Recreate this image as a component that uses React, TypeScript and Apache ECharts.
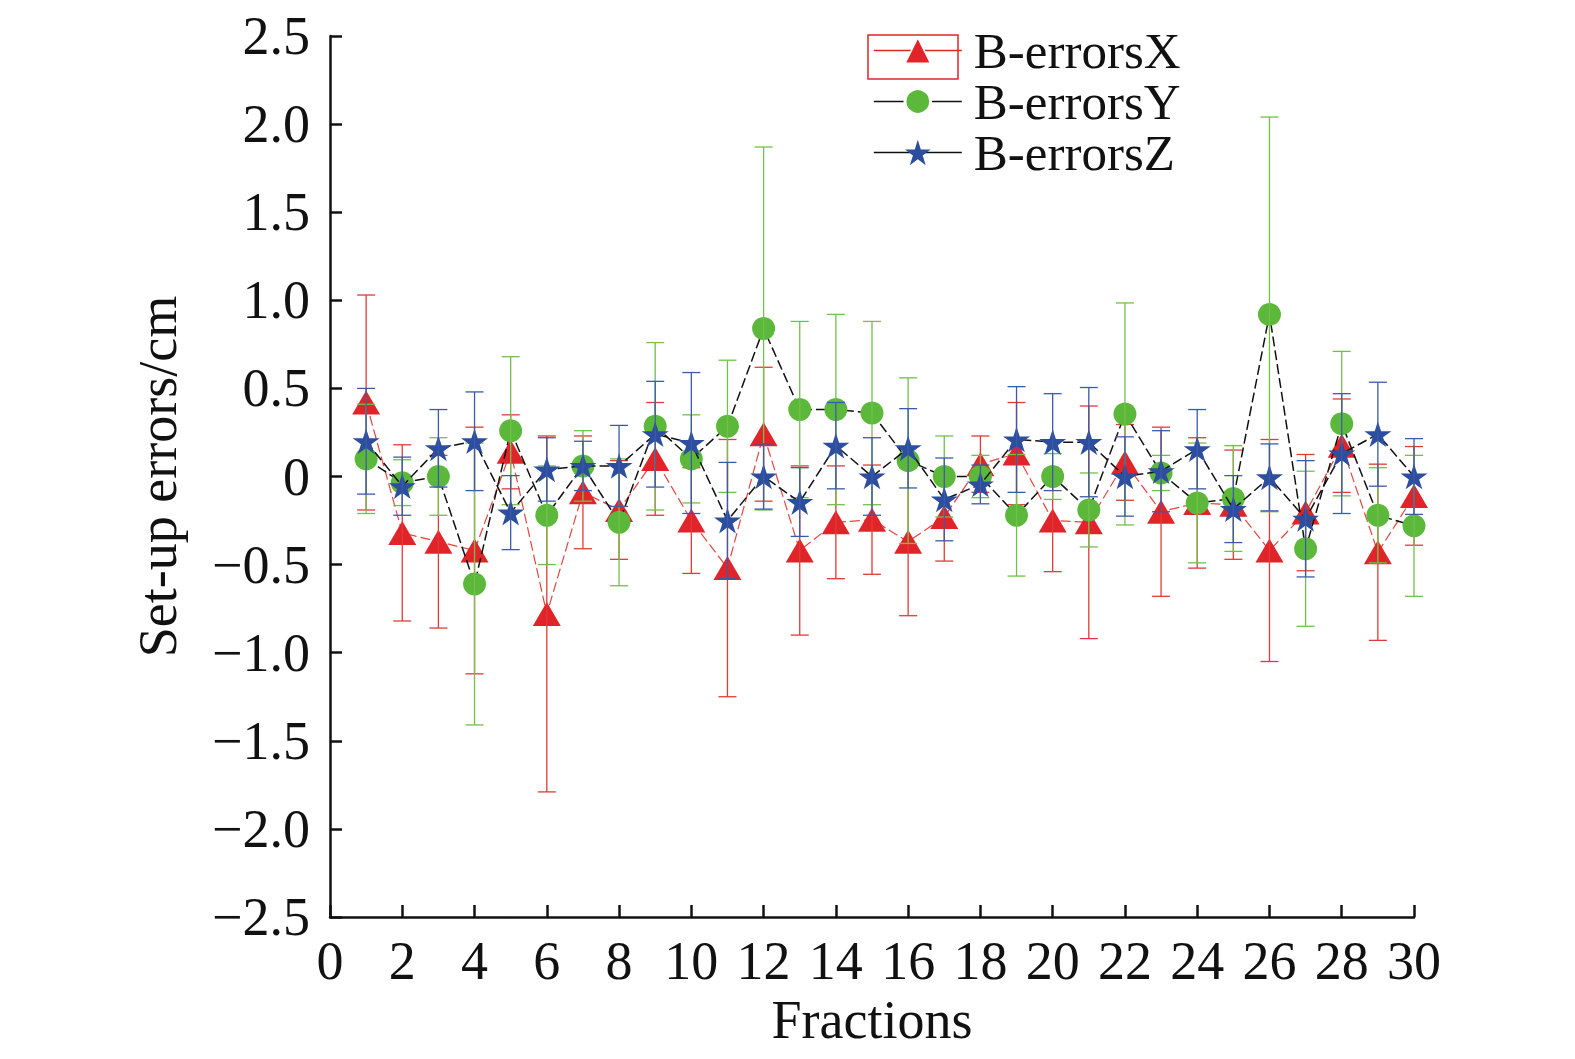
import React, { useEffect, useRef } from "react";
import * as echarts from "echarts";

const fractions = [1, 2, 3, 4, 5, 6, 7, 8, 9, 10, 11, 12, 13, 14, 15, 16, 17, 18, 19, 20, 21, 22, 23, 24, 25, 26, 27, 28, 29, 30];

const xMean = [0.42, -0.32, -0.37, -0.42, 0.14, -0.78, -0.09, -0.19, 0.1, -0.25, -0.52, 0.24, -0.42, -0.26, -0.245, -0.37, -0.23, 0.07, 0.13, -0.25, -0.26, 0.08, -0.2, -0.15, -0.16, -0.42, -0.205, 0.175, -0.43, -0.11];
const xErr = [0.61, 0.5, 0.49, 0.7, 0.21, 1.01, 0.32, 0.28, 0.32, 0.3, 0.73, 0.38, 0.48, 0.32, 0.31, 0.42, 0.25, 0.16, 0.29, 0.29, 0.66, 0.215, 0.48, 0.37, 0.31, 0.63, 0.33, 0.265, 0.5, 0.28];

const yMean = [0.1, -0.035, 0.0, -0.61, 0.26, -0.22, 0.06, -0.26, 0.285, 0.1, 0.285, 0.84, 0.38, 0.38, 0.36, 0.09, 0.0, 0.0, -0.22, 0.0, -0.19, 0.355, 0.02, -0.15, -0.125, 0.92, -0.41, 0.3, -0.22, -0.28];
const yErr = [0.31, 0.13, 0.22, 0.8, 0.42, 0.28, 0.2, 0.36, 0.475, 0.25, 0.375, 1.03, 0.5, 0.54, 0.52, 0.47, 0.23, 0.12, 0.345, 0.13, 0.21, 0.63, 0.1, 0.34, 0.3, 1.12, 0.44, 0.41, 0.27, 0.4];

const zMean = [0.2, -0.055, 0.16, 0.2, -0.205, 0.04, 0.06, 0.06, 0.24, 0.19, -0.25, 0.0, -0.145, 0.175, 0.0, 0.16, -0.13, -0.045, 0.21, 0.195, 0.195, 0.0, 0.03, 0.155, -0.185, -0.005, -0.24, 0.13, 0.24, 0.0];
const zErr = [0.3, 0.165, 0.22, 0.28, 0.21, 0.18, 0.14, 0.23, 0.3, 0.4, 0.33, 0.185, 0.195, 0.245, 0.22, 0.225, 0.235, 0.11, 0.3, 0.275, 0.31, 0.225, 0.23, 0.225, 0.19, 0.19, 0.33, 0.34, 0.295, 0.215];

const seriesNames = ["B-errorsX", "B-errorsY", "B-errorsZ"];

const FONT = "'Liberation Serif', 'Times New Roman', Times, serif";
const STAR =
  "path://M100,0 L122.45,69.1 L195.1,69.1 L136.3,111.8 L158.8,180.9 L100,138.2 L41.2,180.9 L63.7,111.8 L4.9,69.1 L77.55,69.1 Z";

const RED = "#e0242a";
const GREEN = "#5cb83a";
const BLUE = "#2d4e9e";

function fmtY(v: number) {
  if (Math.abs(v) < 1e-9) return "0";
  const s = Math.abs(v).toFixed(1);
  return v < 0 ? "\u2212" + s : s;
}

function errSeries(means: number[], errs: number[], color: string, z: number) {
  return {
    type: "custom",
    name: "err" + z,
    silent: true,
    z,
    encode: { x: 0, y: [1, 2] },
    data: fractions.map((f, i) => [f, means[i] - errs[i], means[i] + errs[i]]),
    renderItem: (params: any, api: any) => {
      const x = api.value(0);
      const lo = api.coord([x, api.value(1)]);
      const hi = api.coord([x, api.value(2)]);
      const hw = 9;
      const st = { stroke: color, lineWidth: 1.3 };
      return {
        type: "group",
        children: [
          { type: "line", shape: { x1: lo[0], y1: lo[1], x2: hi[0], y2: hi[1] }, style: st },
          { type: "line", shape: { x1: lo[0] - hw, y1: lo[1], x2: lo[0] + hw, y2: lo[1] }, style: st },
          { type: "line", shape: { x1: hi[0] - hw, y1: hi[1], x2: hi[0] + hw, y2: hi[1] }, style: st },
        ],
      };
    },
  };
}

export default function App() {
  const ref = useRef<HTMLDivElement>(null);

  useEffect(() => {
    document.body.style.margin = "0";
    if (!ref.current) return;
    const chart = echarts.init(ref.current, null, { renderer: "svg" });
    const option = {
      animation: false,
      backgroundColor: "#ffffff",
      grid: { left: 330, right: 161, top: 36, bottom: 142, containLabel: false },
      legend: {
        orient: "vertical",
        left: 868,
        top: 20,
        itemWidth: 88,
        itemHeight: 32,
        itemGap: 0,
        selectedMode: false,
        textStyle: { fontFamily: FONT, fontSize: 51, color: "#111", lineHeight: 50, padding: [0, 0, 0, 7] },
        data: [
          { name: seriesNames[0], itemStyle: { borderColor: "#fff", borderWidth: 1.5 }, lineStyle: { type: "solid", color: RED, width: 1.6 } },
          { name: seriesNames[1], itemStyle: { borderColor: "#fff", borderWidth: 3 }, lineStyle: { type: "solid", color: "#111", width: 1.6 } },
          { name: seriesNames[2], itemStyle: { borderWidth: 0 }, lineStyle: { type: "solid", color: "#111", width: 1.6 } },
        ],
      },
      xAxis: {
        type: "value",
        min: 0,
        max: 30,
        interval: 2,
        name: "Fractions",
        nameLocation: "middle",
        nameGap: 75,
        nameTextStyle: { fontFamily: FONT, fontSize: 54, color: "#111" },
        axisLine: { show: true, onZero: false, lineStyle: { color: "#111", width: 2.5 } },
        axisTick: { show: true, inside: true, length: 12, lineStyle: { color: "#111", width: 2.5 } },
        axisLabel: { fontFamily: FONT, fontSize: 54, color: "#111", margin: 17 },
        splitLine: { show: false },
      },
      yAxis: {
        type: "value",
        min: -2.5,
        max: 2.5,
        interval: 0.5,
        name: "Set-up errors/cm",
        nameLocation: "middle",
        nameGap: 145,
        nameTextStyle: { fontFamily: FONT, fontSize: 54, color: "#111" },
        axisLine: { show: true, onZero: false, lineStyle: { color: "#111", width: 2.5 } },
        axisTick: { show: true, inside: true, length: 12, lineStyle: { color: "#111", width: 2.5 } },
        axisLabel: { fontFamily: FONT, fontSize: 54, color: "#111", margin: 20, formatter: fmtY },
        splitLine: { show: false },
      },
      graphic: [
        {
          type: "rect",
          shape: { x: 868, y: 35, width: 90, height: 44 },
          style: { fill: "none", stroke: RED, lineWidth: 1.5 },
          z: 100,
        },
      ],
      series: [
        {
          type: "line",
          name: seriesNames[0],
          z: 2,
          data: fractions.map((f, i) => [f, xMean[i]]),
          symbol: "triangle",
          symbolSize: [28, 24],
          itemStyle: { color: RED },
          lineStyle: { color: "#e4453e", width: 1.2, type: [10, 4] },
        },
        errSeries(xMean, xErr, "#e23a36", 3),
        {
          type: "line",
          name: seriesNames[1],
          z: 4,
          data: fractions.map((f, i) => [f, yMean[i]]),
          symbol: "circle",
          symbolSize: 23,
          itemStyle: { color: GREEN },
          lineStyle: { color: "#111", width: 1.5, type: [10, 4] },
        },
        errSeries(yMean, yErr, "#72c04c", 5),
        {
          type: "line",
          name: seriesNames[2],
          z: 6,
          data: fractions.map((f, i) => [f, zMean[i]]),
          symbol: STAR,
          symbolSize: 27,
          symbolKeepAspect: true,
          itemStyle: { color: BLUE },
          lineStyle: { color: "#111", width: 1.5, type: [10, 4] },
        },
        errSeries(zMean, zErr, "#3a5aaa", 7),
      ],
    };
    chart.setOption(option as any);
    return () => chart.dispose();
  }, []);

  return <div ref={ref} style={{ width: 1575, height: 1059 }} />;
}
